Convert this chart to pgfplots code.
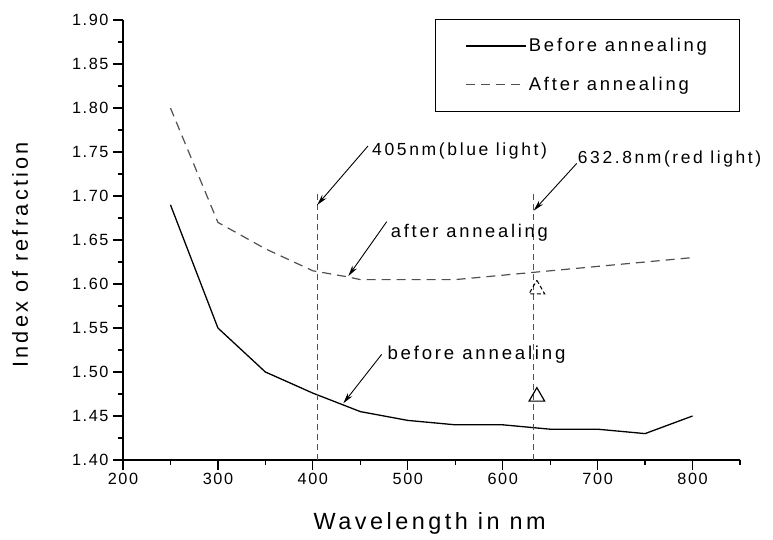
\documentclass[border=0pt]{standalone}
\usepackage{fontspec}
\setmainfont{Liberation Sans}[LetterSpace=15]
\newfontfamily\tickfont{Liberation Sans}[LetterSpace=10]
\usepackage{pgfplots}
\pgfplotsset{compat=1.18}
\usetikzlibrary{arrows.meta}
\definecolor{dgrey}{RGB}{80,80,80}
\begin{document}
\begin{tikzpicture}
\useasboundingbox (-123bp,-80bp) rectangle (650bp,460bp);
\begin{axis}[
  at={(0,0)}, anchor=south west,
  scale only axis, width=617bp, height=440bp,
  xmin=200, xmax=850, ymin=1.40, ymax=1.90,
  axis x line*=bottom, axis y line*=left,
  axis line style={line width=1.4bp, -},
  xtick={200,300,400,500,600,700,800},
  minor xtick={250,350,450,550,650,750,850},
  ytick={1.40,1.45,1.50,1.55,1.60,1.65,1.70,1.75,1.80,1.85,1.90},
  minor ytick={1.425,1.475,1.525,1.575,1.625,1.675,1.725,1.775,1.825,1.875},
  tick align=outside, major tick length=10bp, minor tick length=5bp,
  every tick/.style={line width=1.2bp, black},
  every minor tick/.style={line width=1.2bp, black},
  /pgf/number format/assume math mode=true,
  every tick label/.append style={font=\tickfont\fontsize{16.3}{19}\selectfont},
  yticklabel style={xshift=-1bp, /pgf/number format/.cd, fixed, fixed zerofill, precision=2},
  xticklabel style={/pgf/number format/1000 sep={}},
  every axis x label/.style={at={(axis description cs:0.497,-0.159)}, anchor=base, font=\fontsize{23.5}{27}\selectfont},
  every axis y label/.style={at={(axis description cs:-0.154,0.466)}, rotate=90, anchor=base, font=\fontsize{21.8}{25}\selectfont},
  xlabel={Wavelength in nm},
  ylabel={Index of refraction},
  clip=false,
  legend style={at={(axis description cs:1,1.002)}, anchor=north east, draw=black, line width=1bp,
    font=\fontsize{18.5}{22}\selectfont, inner xsep=30.5bp, inner ysep=15bp, row sep=16bp,
    nodes={inner xsep=2bp, inner ysep=4bp}, cells={anchor=west}},
  legend image code/.code={\draw[#1] (0bp,0bp) -- (60bp,0bp);},
]
\addplot[black, line width=1.3bp] coordinates {
(250,1.69) (300,1.55) (350,1.50) (400,1.476) (450,1.455) (500,1.445)
(550,1.44) (600,1.44) (650,1.435) (700,1.435) (750,1.43) (800,1.45)};
\addlegendentry{Before annealing}
\addplot[dgrey, line width=1.2bp, dash pattern=on 9bp off 6bp] coordinates {
(250,1.80) (300,1.67) (350,1.640) (400,1.615) (437,1.608) (450,1.605) (500,1.605)
(550,1.605) (600,1.61) (650,1.615) (700,1.62) (750,1.625) (800,1.63)};
\addlegendentry{After annealing}
\addplot[dgrey, line width=1.1bp, dash pattern=on 6bp off 4bp] coordinates {(404.5,1.40) (404.5,1.705)};
\addplot[dgrey, line width=1.1bp, dash pattern=on 6bp off 4bp] coordinates {(632.5,1.40) (632.5,1.703)};
\addplot[only marks, mark=triangle, mark size=9bp, mark options={black, line width=1.2bp, solid}] coordinates {(636,1.472)};
\addplot[only marks, mark=triangle, mark size=9bp, mark options={black, line width=1bp, dash pattern=on 4bp off 2.5bp}] coordinates {(636,1.594)};
% annotations
\draw[line width=0.9bp, -{Stealth[length=11bp,width=5.5bp]}] (axis cs:458.1,1.7568) -- (axis cs:404.6,1.6898);
\draw[line width=0.9bp, -{Stealth[length=11bp,width=5.5bp]}] (axis cs:678,1.737) -- (axis cs:632.6,1.6833);
\draw[line width=0.9bp, -{Stealth[length=11bp,width=5.5bp]}] (axis cs:477.8,1.6708) -- (axis cs:437.4,1.609);
\draw[line width=0.9bp, -{Stealth[length=11bp,width=5.5bp]}] (axis cs:472.5,1.520) -- (axis cs:432.1,1.4644);
\node[anchor=base west, inner sep=0, font=\fontsize{17.6}{20}\selectfont] at (axis cs:462.3,1.7455) {405nm(blue light)};
\node[anchor=base west, inner sep=0, font=\fontsize{17.5}{20}\selectfont] at (axis cs:679,1.7375) {632.8nm(red light)};
\node[anchor=base west, inner sep=0, font=\fontsize{18.4}{21}\selectfont] at (axis cs:482,1.6534) {after annealing};
\node[anchor=base west, inner sep=0, font=\fontsize{18.7}{21}\selectfont] at (axis cs:478.5,1.5144) {before annealing};
\end{axis}
\end{tikzpicture}
\end{document}
